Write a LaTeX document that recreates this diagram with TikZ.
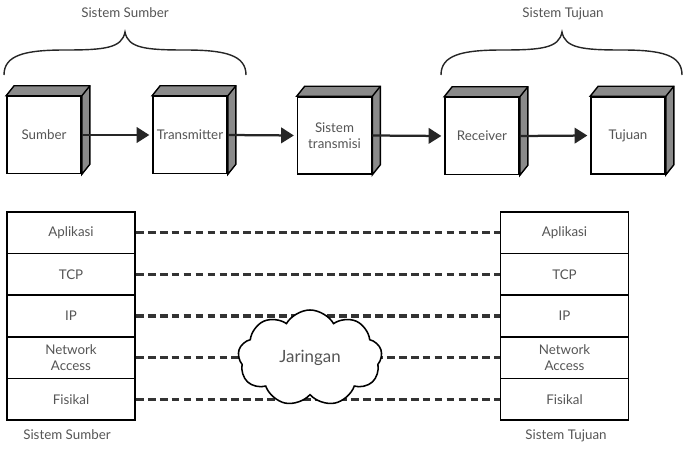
\documentclass[tikz,border=0pt]{standalone}
\usepackage{fontspec}
\setmainfont{Lato}
\usepackage{tikz}
\usetikzlibrary{positioning, arrows.meta, shapes.symbols, calc}
\definecolor{tGray}{HTML}{555555}
\definecolor{sGray}{HTML}{8A8A8A}

\begin{document}
\begin{tikzpicture}[x=0.025cm, y=-0.025cm,
  box/.style={draw, fill=white, line width=1.2pt, minimum width=1.85cm,
              minimum height=1.92cm, align=center, font=\fontsize{9.5}{11}\selectfont,
              text=tGray, inner sep=1pt},
  layer/.style={draw, line width=1.2pt, minimum width=3.2cm, minimum height=1.04cm,
                align=center, font=\fontsize{9.5}{11}\selectfont, text=tGray, inner sep=1pt},
  caption/.style={font=\fontsize{9.5}{11}\selectfont, text=tGray},
  flow/.style={line width=1.6pt, -{Triangle[length=9pt, width=11pt]}, shorten >=2pt,
               color=black!85},
  link/.style={line width=2.4pt, dash pattern=on 5.5pt off 3pt, color=black!80},
  brace/.style={line width=1pt, color=black!85},
]
  \useasboundingbox (0,0) rectangle (683,448);

  % top row: communication model
  \node[box] (sumber) at (44, 135) {Sumber};
  \node[box] (trans) at (190, 135) {Transmitter};
  \node[box] (media) at (334.5, 135.5) {Sistem\\transmisi};
  \node[box] (recv) at (482, 136) {Receiver};
  \node[box] (tujuan) at (628, 135.5) {Tujuan};
  \foreach \b in {sumber, trans, media, recv, tujuan} {
    \filldraw[fill=sGray, line width=1pt] (\b.north west) -- ++(8,-10) -- ($(\b.north east)+(8,-10)$)
      -- ($(\b.south east)+(8,-10)$) -- (\b.south east) -- (\b.north east) -- cycle;
    \draw[line width=1pt] (\b.north east) -- ++(8,-10);
  }
  \draw[flow] (sumber.east) -- (trans.west);
  \draw[flow] (trans.east) -- (media.west);
  \draw[flow] (media.east) -- (recv.west);
  \draw[flow] (recv.east) -- (tujuan.west);

  % braces
  \draw[brace] (4,75) .. controls (4,55) and (25,50) .. (65,50)
    .. controls (105,50) and (122,48) .. (125,32)
    .. controls (128,48) and (145,50) .. (185,50)
    .. controls (225,50) and (246,55) .. (246,75);
  \node[caption] (srcTop) at (125, 13) {Sistem Sumber};
  \draw[brace] (441,75) .. controls (441,55) and (462,50) .. (502,50)
    .. controls (542,50) and (559,48) .. (562,32)
    .. controls (565,48) and (582,50) .. (622,50)
    .. controls (662,50) and (682,55) .. (682,75);
  \node[caption] (dstTop) at (563, 14) {Sistem Tujuan};

  % bottom: layer stacks
  \foreach \nm/\txt [count=\i] in {apl/Aplikasi, tcp/TCP, ip/IP, na/{Network\\Access}, fis/Fisikal} {
    \node[layer] (L\nm) at (71, 191.2+41.6*\i) {\txt};
    \node[layer] (R\nm) at (564.5, 191.2+41.6*\i) {\txt};
    \draw[link] (L\nm.east) -- (R\nm.west);
  }
  \node[draw, fill=white, cloud, cloud puffs=9, cloud puff arc=120, cloud ignores aspect,
        minimum width=3.6cm, minimum height=2.4cm, line width=1.1pt, text=tGray,
        font=\fontsize{12}{14}\selectfont] (net) at (310, 358) {Jaringan};

  \node[caption] (srcBot) at (67, 435) {Sistem Sumber};
  \node[caption] (dstBot) at (566, 436) {Sistem Tujuan};
\end{tikzpicture}
\end{document}
